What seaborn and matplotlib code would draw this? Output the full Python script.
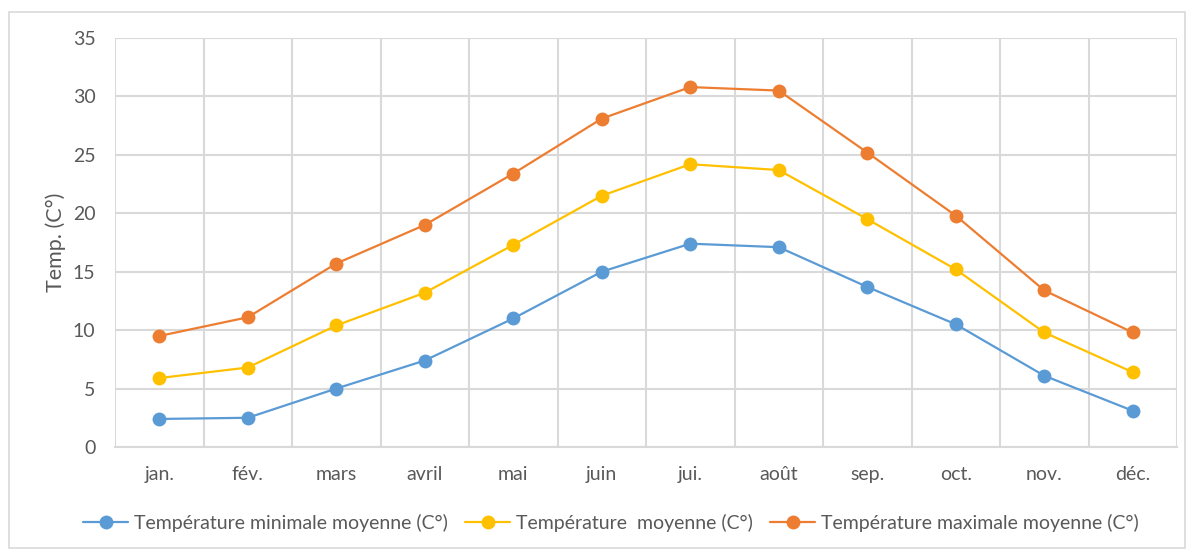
import matplotlib
matplotlib.use("Agg")
import matplotlib.pyplot as plt
import matplotlib.patches as patches
import seaborn as sns
import pandas as pd
import numpy as np

months = ["jan.", "fév.", "mars", "avril", "mai", "juin", "jui.", "août", "sep.", "oct.", "nov.", "déc."]
temp_min = [2.4, 2.5, 5.0, 7.4, 11.0, 15.0, 17.4, 17.1, 13.7, 10.5, 6.1, 3.1]
temp_moy = [5.9, 6.8, 10.4, 13.2, 17.3, 21.5, 24.2, 23.7, 19.5, 15.2, 9.8, 6.4]
temp_max = [9.5, 11.1, 15.7, 19.0, 23.4, 28.1, 30.8, 30.5, 25.2, 19.8, 13.4, 9.8]

series_names = ["Température minimale moyenne (C°)",
                "Température  moyenne (C°)",
                "Température maximale moyenne (C°)"]
colors = ["#5B9BD5", "#FFC000", "#ED7D31"]

df = pd.DataFrame({
    "x": list(range(len(months))) * 3,
    "temp": temp_min + temp_moy + temp_max,
    "serie": [s for s in series_names for _ in months],
})

sns.set_style("white")
plt.rcParams["font.family"] = ["Lato", "DejaVu Sans"]
text_col = "#595959"
grid_col = "#D9D9D9"

fig = plt.figure(figsize=(11.89, 5.49), dpi=100)
ax = fig.add_axes([115 / 1189, 1 - 447 / 549, 1062 / 1189, 409 / 549])

sns.lineplot(data=df, x="x", y="temp", hue="serie", palette=colors,
             marker="o", markersize=10, markeredgewidth=0, linewidth=1.6,
             ax=ax, legend=True)

ax.set_xlim(-0.5, len(months) - 0.5)
ax.set_ylim(0, 35)
ax.set_yticks(np.arange(0, 36, 5))
ax.set_xticks(range(len(months)))
ax.set_xticklabels(months)
ax.set_xticks(np.arange(-0.5, len(months), 1), minor=True)
ax.grid(False)
ax.yaxis.grid(True, color=grid_col, linewidth=1.5)
ax.xaxis.grid(True, which="minor", color=grid_col, linewidth=1.5)
ax.set_axisbelow(True)
for s in ["top", "right", "left"]:
    ax.spines[s].set_visible(False)
ax.spines["bottom"].set_color(grid_col)
ax.spines["bottom"].set_linewidth(1.5)
ax.tick_params(axis="both", which="both", length=0, colors=text_col, labelsize=14)
ax.tick_params(axis="x", pad=14)
ax.tick_params(axis="y", pad=14)
ax.set_xlabel("")
ax.set_ylabel("Temp. (C°)", color=text_col, fontsize=15.5, labelpad=5)

handles, labels = ax.get_legend_handles_labels()
ax.legend(handles, labels, loc="center", bbox_to_anchor=(0.467, -0.185), ncol=3,
          frameon=False, fontsize=14, labelcolor=text_col, handlelength=2.3,
          handletextpad=0.3, columnspacing=0.9)

fig.patches.append(patches.Rectangle((9 / 1189, 0.002), 1176 / 1189, 1 - 12 / 549 - 0.002,
                                     transform=fig.transFigure, fill=False,
                                     edgecolor=grid_col, linewidth=1.2))

fig.savefig("out.png", dpi=100)
